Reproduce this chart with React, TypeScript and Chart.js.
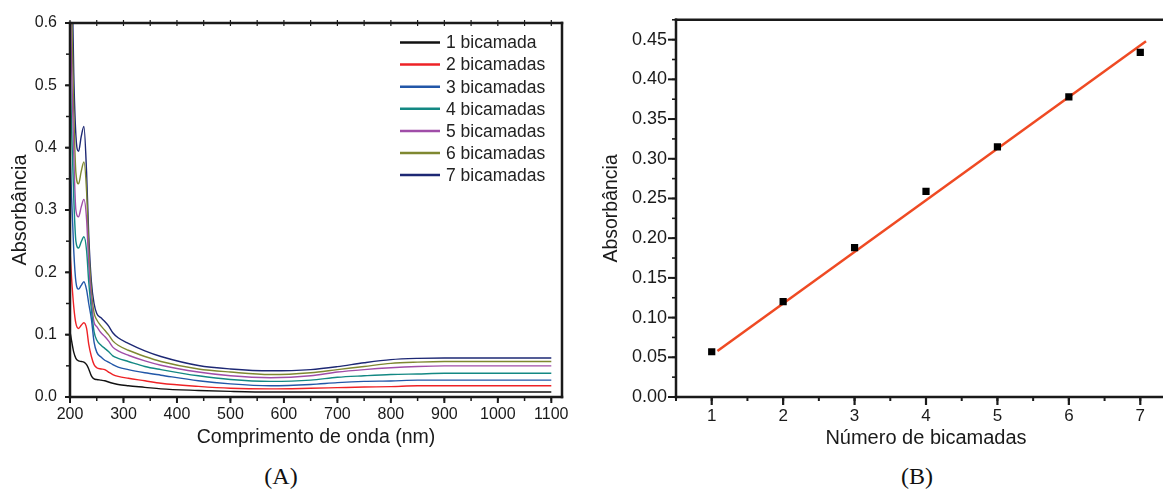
import React, { useEffect, useRef } from "react";
import { Chart, registerables } from "chart.js";

Chart.register(...registerables);

// ---------- Panel A: UV-Vis spectra ----------
const wavelengths = [200, 203, 207, 211, 216, 221, 226, 231, 235, 240, 245, 250, 258, 265, 272, 280, 290, 309, 340, 370, 440, 500, 575, 650, 700, 750, 800, 850, 900, 1000, 1100];
const abs1 = [0.105, 0.090, 0.072, 0.062, 0.058, 0.057, 0.056, 0.052, 0.045, 0.034, 0.029, 0.028, 0.027, 0.026, 0.024, 0.022, 0.020, 0.018, 0.0155, 0.013, 0.0105, 0.009, 0.008, 0.008, 0.008, 0.008, 0.008, 0.008, 0.008, 0.008, 0.008];
const abs2 = [0.236, 0.19, 0.145, 0.118, 0.110, 0.115, 0.119, 0.110, 0.085, 0.065, 0.052, 0.047, 0.045, 0.044, 0.040, 0.036, 0.033, 0.030, 0.026, 0.022, 0.017, 0.014, 0.013, 0.014, 0.015, 0.016, 0.0166, 0.018, 0.018, 0.018, 0.018];
const abs3 = [0.40, 0.32, 0.235, 0.185, 0.173, 0.179, 0.185, 0.172, 0.15, 0.125, 0.088, 0.072, 0.064, 0.059, 0.056, 0.052, 0.048, 0.044, 0.039, 0.035, 0.026, 0.021, 0.018, 0.020, 0.023, 0.025, 0.0257, 0.027, 0.027, 0.027, 0.027];
const abs4 = [0.533, 0.43, 0.32, 0.25, 0.239, 0.249, 0.257, 0.235, 0.185, 0.14, 0.105, 0.0915, 0.083, 0.078, 0.073, 0.066, 0.062, 0.057, 0.049, 0.044, 0.034, 0.028, 0.025, 0.027, 0.0316, 0.034, 0.036, 0.037, 0.038, 0.038, 0.038];
const abs5 = [0.66, 0.53, 0.39, 0.30, 0.289, 0.305, 0.317, 0.285, 0.215, 0.155, 0.12, 0.113, 0.103, 0.097, 0.090, 0.080, 0.074, 0.067, 0.058, 0.051, 0.040, 0.034, 0.031, 0.034, 0.040, 0.044, 0.047, 0.049, 0.050, 0.050, 0.050];
const abs6 = [0.78, 0.62, 0.46, 0.36, 0.342, 0.362, 0.377, 0.33, 0.24, 0.17, 0.135, 0.124, 0.114, 0.107, 0.100, 0.090, 0.083, 0.075, 0.065, 0.057, 0.045, 0.040, 0.036, 0.039, 0.044, 0.049, 0.054, 0.056, 0.057, 0.057, 0.057];
const abs7 = [0.90, 0.72, 0.52, 0.42, 0.394, 0.418, 0.434, 0.36, 0.26, 0.185, 0.15, 0.134, 0.127, 0.121, 0.114, 0.103, 0.095, 0.086, 0.074, 0.065, 0.0506, 0.045, 0.042, 0.044, 0.0487, 0.055, 0.060, 0.062, 0.0626, 0.0626, 0.0626];
const seriesA = [abs1, abs2, abs3, abs4, abs5, abs6, abs7];
const seriesLabels = ["1 bicamada", "2 bicamadas", "3 bicamadas", "4 bicamadas", "5 bicamadas", "6 bicamadas", "7 bicamadas"];
const seriesColors = ["#111111", "#ee2226", "#2257a8", "#138883", "#a04da8", "#7f8831", "#1d2874"];
const xTicksA = [200, 300, 400, 500, 600, 700, 800, 900, 1000, 1100];
const yTicksA = [0, 0.1, 0.2, 0.3, 0.4, 0.5, 0.6];

// ---------- Panel B: absorbance vs number of bilayers ----------
const layerCounts = [1, 2, 3, 4, 5, 6, 7];
const layerAbsorbance = [0.057, 0.120, 0.188, 0.259, 0.315, 0.378, 0.434];
const fitX = [1.08, 7.08];
const fitY = [0.058, 0.448];
const xTicksB = [1, 2, 3, 4, 5, 6, 7];
const yTicksB = [0, 0.05, 0.1, 0.15, 0.2, 0.25, 0.3, 0.35, 0.4, 0.45];

const SANS = "'Liberation Sans', Arial, Helvetica, sans-serif";
const INK = "#1a1a1a";

type TickSpec = { step: number; len: number; width: number; dir: "out" | "in" | "cross" };
type SideSpec = { line: number; major?: TickSpec; minor?: TickSpec };
type FrameSpec = { top?: SideSpec; bottom?: SideSpec; left?: SideSpec; right?: SideSpec };

function stepValues(min: number, max: number, step: number): number[] {
  const out: number[] = [];
  const start = Math.ceil(min / step - 1e-9);
  for (let i = start; i * step <= max + 1e-9; i++) out.push(i * step);
  return out;
}

function makeFramePlugin(spec: FrameSpec) {
  return {
    id: "frame",
    afterDatasetsDraw(chart: any) {
      const { ctx, chartArea: a, scales } = chart;
      const xs = scales.x;
      const ys = scales.y;
      ctx.save();
      ctx.strokeStyle = INK;
      const seg = (w: number, x1: number, y1: number, x2: number, y2: number, cap = "butt") => {
        ctx.lineWidth = w;
        ctx.lineCap = cap;
        ctx.beginPath();
        ctx.moveTo(x1, y1);
        ctx.lineTo(x2, y2);
        ctx.stroke();
      };
      const sideTicks = (side: "top" | "bottom" | "left" | "right", t?: TickSpec) => {
        if (!t) return;
        const horiz = side === "top" || side === "bottom";
        const sc = horiz ? xs : ys;
        const vals = stepValues(sc.min, sc.max, t.step);
        for (const v of vals) {
          const p = sc.getPixelForValue(v);
          const base = side === "top" ? a.top : side === "bottom" ? a.bottom : side === "left" ? a.left : a.right;
          const outSign = side === "top" || side === "left" ? -1 : 1;
          let s0 = 0;
          let s1 = 0;
          if (t.dir === "out") { s0 = 0; s1 = outSign * t.len; }
          else if (t.dir === "in") { s0 = 0; s1 = -outSign * t.len; }
          else { s0 = -t.len / 2; s1 = t.len / 2; }
          if (horiz) seg(t.width, p, base + s0, p, base + s1);
          else seg(t.width, base + s0, p, base + s1, p);
        }
      };
      (["top", "bottom", "left", "right"] as const).forEach((side) => {
        const s = spec[side];
        if (!s) return;
        sideTicks(side, s.minor);
        sideTicks(side, s.major);
      });
      if (spec.top) seg(spec.top.line, a.left, a.top, a.right, a.top, "square");
      if (spec.bottom) seg(spec.bottom.line, a.left, a.bottom, a.right, a.bottom, "square");
      if (spec.left) seg(spec.left.line, a.left, a.top, a.left, a.bottom, "square");
      if (spec.right) seg(spec.right.line, a.right, a.top, a.right, a.bottom, "square");
      ctx.restore();
    },
  };
}

function makeInsideLegend(x: number, y: number, gap: number, len: number, fontSize: number) {
  return {
    id: "insideLegend",
    afterDraw(chart: any) {
      const { ctx } = chart;
      ctx.save();
      ctx.font = `${fontSize}px ${SANS}`;
      ctx.textBaseline = "middle";
      ctx.textAlign = "left";
      chart.data.datasets.forEach((ds: any, i: number) => {
        const yy = y + i * gap;
        ctx.strokeStyle = ds.borderColor;
        ctx.lineWidth = 2.5;
        ctx.beginPath();
        ctx.moveTo(x, yy);
        ctx.lineTo(x + len, yy);
        ctx.stroke();
        ctx.fillStyle = "#222";
        ctx.fillText(ds.label, x + len + 6, yy + 1);
      });
      ctx.restore();
    },
  };
}

function configA(): any {
  return {
    type: "line",
    data: {
      datasets: seriesA.map((vals, i) => ({
        label: seriesLabels[i],
        data: wavelengths.map((w, j) => ({ x: w, y: vals[j] })),
        borderColor: seriesColors[i],
        backgroundColor: seriesColors[i],
        borderWidth: 1.4,
        pointRadius: 0,
        cubicInterpolationMode: "monotone",
        fill: false,
      })),
    },
    options: {
      responsive: false,
      animation: false,
      events: [],
      layout: { padding: { left: 0, right: 18, top: 23, bottom: 0 } },
      plugins: { legend: { display: false }, tooltip: { enabled: false } },
      scales: {
        x: {
          type: "linear",
          min: 200,
          max: 1120,
          afterBuildTicks: (s: any) => { s.ticks = xTicksA.map((v) => ({ value: v })); },
          afterFit: (s: any) => { s.height = 58; },
          grid: { display: false, drawTicks: false },
          border: { display: false },
          ticks: { padding: 8, autoSkip: false, maxRotation: 0, color: INK, font: { family: SANS, size: 16 }, callback: (v: any) => String(v) },
          title: { display: true, text: "Comprimento de onda (nm)", color: INK, font: { family: SANS, size: 19.5 }, padding: { top: 0, bottom: 6 } },
        },
        y: {
          type: "linear",
          min: 0,
          max: 0.6,
          afterBuildTicks: (s: any) => { s.ticks = yTicksA.map((v) => ({ value: v })); },
          afterFit: (s: any) => { s.width = 70; },
          grid: { display: false, drawTicks: false },
          border: { display: false },
          ticks: { padding: 13, color: INK, font: { family: SANS, size: 16 }, callback: (v: any) => Number(v).toFixed(1) },
          title: { display: true, text: "Absorbância", color: INK, font: { family: SANS, size: 20 }, padding: { top: 8, bottom: 0 } },
        },
      },
    },
    plugins: [
      makeFramePlugin({
        top: { line: 2.5, major: { step: 50, len: 6, width: 1.2, dir: "cross" } },
        bottom: { line: 2.5, major: { step: 100, len: 6, width: 2, dir: "out" }, minor: { step: 50, len: 4, width: 1.5, dir: "out" } },
        left: { line: 2.5, major: { step: 0.1, len: 5, width: 2, dir: "out" }, minor: { step: 0.05, len: 4, width: 1.5, dir: "out" } },
        right: { line: 2.5 },
      }),
      makeInsideLegend(400, 42.5, 22.1, 40, 17.5),
    ],
  };
}

function configB(): any {
  return {
    type: "scatter",
    data: {
      datasets: [
        {
          label: "Absorbância",
          data: layerCounts.map((n, i) => ({ x: n, y: layerAbsorbance[i] })),
          pointStyle: "rect",
          pointRadius: 5.1,
          pointBorderWidth: 0,
          backgroundColor: "#000000",
          borderColor: "#000000",
          showLine: false,
        },
        {
          label: "Ajuste linear",
          data: fitX.map((x, i) => ({ x, y: fitY[i] })),
          showLine: true,
          borderColor: "#ef4a23",
          borderWidth: 2.5,
          pointRadius: 0,
          fill: false,
        },
      ],
    },
    options: {
      responsive: false,
      animation: false,
      events: [],
      layout: { padding: { left: 0, right: 24, top: 12, bottom: 0 } },
      plugins: { legend: { display: false }, tooltip: { enabled: false } },
      scales: {
        x: {
          type: "linear",
          min: 0.5,
          max: 7.5,
          afterBuildTicks: (s: any) => { s.ticks = xTicksB.map((v) => ({ value: v })); },
          afterFit: (s: any) => { s.height = 58; },
          grid: { display: false, drawTicks: false },
          border: { display: false },
          ticks: { padding: 9, autoSkip: false, maxRotation: 0, color: INK, font: { family: SANS, size: 17 }, callback: (v: any) => String(v) },
          title: { display: true, text: "Número de bicamadas", color: INK, font: { family: SANS, size: 20 }, padding: { top: 0, bottom: 5 } },
        },
        y: {
          type: "linear",
          min: 0,
          max: 0.475,
          afterBuildTicks: (s: any) => { s.ticks = yTicksB.map((v) => ({ value: v })); },
          afterFit: (s: any) => { s.width = 96; },
          grid: { display: false, drawTicks: false },
          border: { display: false },
          ticks: { padding: 9, color: INK, font: { family: SANS, size: 18 }, callback: (v: any) => Number(v).toFixed(2) },
          title: { display: true, text: "Absorbância", color: INK, font: { family: SANS, size: 19.5 }, padding: { top: 20, bottom: 0 } },
        },
      },
    },
    plugins: [
      makeFramePlugin({
        top: { line: 2.5 },
        bottom: { line: 2.5, major: { step: 1, len: 8, width: 2.2, dir: "out" }, minor: { step: 0.5, len: 4, width: 2, dir: "out" } },
        left: { line: 2.5, major: { step: 0.05, len: 8, width: 2, dir: "out" }, minor: { step: 0.025, len: 4, width: 1.6, dir: "out" } },
        right: { line: 2.5 },
      }),
    ],
  };
}

function ChartCanvas(props: { make: () => any; left: number; top: number; width: number; height: number }) {
  const ref = useRef<HTMLCanvasElement | null>(null);
  useEffect(() => {
    if (!ref.current) return;
    const chart = new Chart(ref.current, props.make());
    return () => chart.destroy();
  }, []);
  return (
    <div style={{ position: "absolute", left: props.left, top: props.top, width: props.width, height: props.height }}>
      <canvas ref={ref} width={props.width} height={props.height} style={{ display: "block", width: props.width, height: props.height }} />
    </div>
  );
}

const panelLabelStyle: React.CSSProperties = {
  position: "absolute",
  top: 460,
  width: 80,
  textAlign: "center",
  fontFamily: "'Liberation Serif', 'Times New Roman', serif",
  fontSize: 24,
  lineHeight: "32px",
  color: "#111",
};

export default function App() {
  return (
    <div style={{ position: "absolute", left: 0, top: 0, width: 1163, height: 493, overflow: "hidden", background: "#ffffff" }}>
      <ChartCanvas make={configA} left={0} top={0} width={580} height={455} />
      <ChartCanvas make={configB} left={580} top={0} width={620} height={455} />
      <div style={{ ...panelLabelStyle, left: 281 - 40 }}>(A)</div>
      <div style={{ ...panelLabelStyle, left: 917 - 40 }}>(B)</div>
    </div>
  );
}
